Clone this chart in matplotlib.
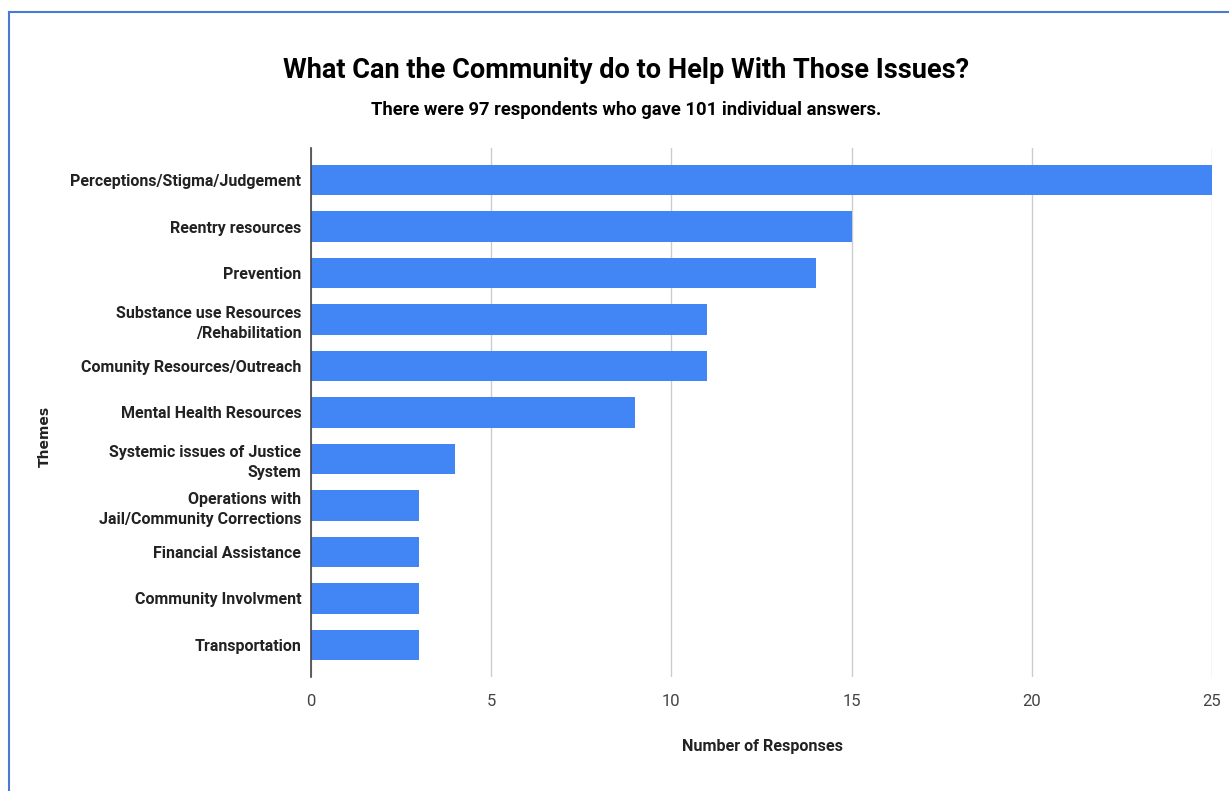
import matplotlib.pyplot as plt

themes = [
    "Perceptions/Stigma/Judgement",
    "Reentry resources",
    "Prevention",
    "Substance use Resources\n/Rehabilitation",
    "Comunity Resources/Outreach",
    "Mental Health Resources",
    "Systemic issues of Justice\nSystem",
    "Operations with\nJail/Community Corrections",
    "Financial Assistance",
    "Community Involvment",
    "Transportation",
]
responses = [25, 15, 14, 11, 11, 9, 4, 3, 3, 3, 3]
xticks = [0, 5, 10, 15, 20, 25]

plt.rcParams['font.family'] = ['Liberation Sans Narrow', 'Roboto', 'DejaVu Sans']

fig = plt.figure(figsize=(12.29, 7.91), dpi=100)
W, H = 1229, 791
ax = fig.add_axes([311 / W, 1 - 677 / H, (1212 - 311) / W, (677 - 148) / H])

y = list(range(len(themes)))
ax.barh(y, responses, height=0.65, color='#4285F4', zorder=3)
ax.set_ylim(len(themes) - 1 + 0.69, -0.69)
ax.set_xlim(0, 25)
ax.set_xticks(xticks)
ax.set_xticklabels([str(t) for t in xticks], fontsize=12, color='#444444')
ax.set_yticks(y)
ax.set_yticklabels(themes, fontsize=11.5, fontweight='bold', color='#222222',
                   linespacing=1.4)
ax.tick_params(axis='both', length=0)
ax.tick_params(axis='x', pad=12)
ax.tick_params(axis='y', pad=7)
ax.grid(axis='x', color='#cccccc', linewidth=1, zorder=0)
for s in ['top', 'right', 'bottom']:
    ax.spines[s].set_visible(False)
ax.spines['left'].set_color('#444444')
ax.spines['left'].set_linewidth(1.2)
ax.spines['left'].set_zorder(4)

fig.text(626 / W, 1 - 70 / H, "What Can the Community do to Help With Those Issues?",
         ha='center', va='center', fontsize=19.5, fontweight='bold', color='black')
fig.text(626 / W, 1 - 110 / H, "There were 97 respondents who gave 101 individual answers.",
         ha='center', va='center', fontsize=13.2, fontweight='bold', color='black')
fig.text(762 / W, 1 - 747 / H, "Number of Responses",
         ha='center', va='center', fontsize=11.6, fontweight='bold', color='#222222')
fig.text(45 / W, 1 - 436 / H, "Themes", rotation=90,
         ha='center', va='center', fontsize=10, fontweight='bold', color='#222222',
         family=['DejaVu Sans'])

# frame line on the left and top edges
fig.add_artist(plt.Line2D([9 / W, 9 / W], [0, 1 - 12 / H], transform=fig.transFigure,
                          color='#4a7bd4', linewidth=1.5))
fig.add_artist(plt.Line2D([9 / W, 1], [1 - 12 / H, 1 - 12 / H], transform=fig.transFigure,
                          color='#4a7bd4', linewidth=1.5))

fig.savefig('out.png', dpi=100)
